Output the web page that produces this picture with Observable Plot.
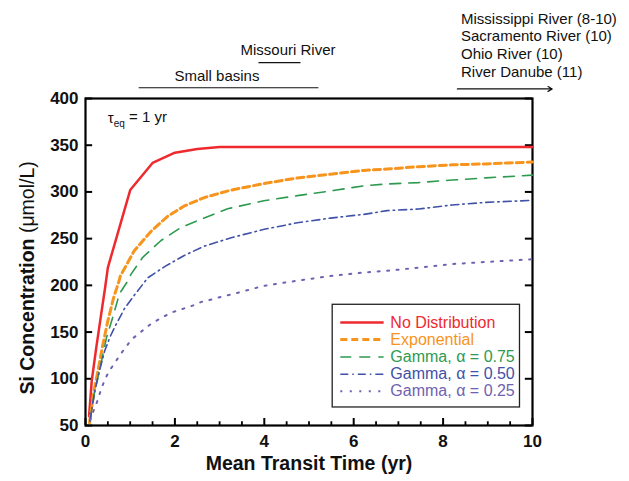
<!DOCTYPE html>
<html>
<head>
<meta charset="utf-8">
<script src="https://cdn.jsdelivr.net/npm/d3@7"></script>
<script src="https://cdn.jsdelivr.net/npm/@observablehq/plot@0.6"></script>
<style>
  html, body { margin: 0; padding: 0; background: #fff; }
  #chart { width: 629px; height: 481px; }
</style>
</head>
<body>
<div id="chart"></div>
<script>
// ---- data ----
const noDistT = [0.08, 0.14, 0.24, 0.35, 0.44, 0.5, 1.0, 1.5, 2.0, 2.5, 3.0, 4, 5, 6, 7, 8, 9, 10];
const noDistV = [60, 98, 133, 169, 198, 219, 302, 331, 342, 346, 348, 348, 348, 348, 348, 348, 348, 348];

const expT = [0.09, 0.19, 0.28, 0.39, 0.5, 0.63, 0.74, 0.78, 1.09, 1.47, 1.84, 2.21, 2.66, 3.26, 4.0, 4.74, 5.48, 6.23, 6.75, 7.45, 8.2, 8.95, 10];
const expV = [53, 87, 109, 137, 162, 187, 203, 210, 237, 258, 274, 285, 294, 302, 309, 315, 319, 323, 324.5, 327, 329, 330, 332];

const g75T = [0.1, 0.2, 0.35, 0.47, 0.61, 0.76, 0.95, 1.02, 1.28, 1.69, 2.14, 2.59, 3.18, 3.99, 4.74, 5.48, 6.23, 6.75, 7.45, 8.2, 8.95, 10];
const g75V = [55, 85, 117, 144, 166, 191, 205, 212, 230, 248, 262, 271, 282, 290.6, 296, 301, 306.6, 308.5, 310, 312.7, 315, 318];

const g50T = [0.1, 0.2, 0.31, 0.43, 0.55, 0.65, 0.87, 1.1, 1.28, 1.39, 1.77, 2.21, 2.66, 3.26, 4.0, 4.74, 5.48, 6.23, 6.75, 7.45, 8.2, 8.95, 10];
const g50V = [55, 85, 108, 130, 145, 155, 175, 190, 201, 208, 220, 232, 242, 251, 260, 267, 272, 276, 280, 281.7, 286, 288.8, 291];

const g25T = [0.1, 0.15, 0.28, 0.35, 0.44, 0.54, 0.71, 0.87, 1.04, 1.26, 1.47, 1.71, 1.93, 2.16, 2.38, 2.6, 2.83, 3.05, 3.3, 4.0, 4.74, 5.48, 6.23, 6.75, 7.45, 8.2, 8.95, 10];
const g25V = [55, 62, 78, 89, 100, 109, 121, 132, 142.5, 151, 159, 165.6, 171, 174.6, 178, 182.4, 185, 188, 190.7, 199.6, 205, 210, 213.8, 215.6, 219, 222.8, 225, 228];

const xMajor = [0, 2, 4, 6, 8, 10];
const xMinor = [0.5, 1, 1.5, 2.5, 3, 3.5, 4.5, 5, 5.5, 6.5, 7, 7.5, 8.5, 9, 9.5];
const yTicks = [50, 100, 150, 200, 250, 300, 350, 400];

const seriesNames = ["No Distribution", "Exponential", "Gamma, α = 0.75", "Gamma, α = 0.50", "Gamma, α = 0.25"];
const seriesColors = ["#ee2a2e", "#f7941d", "#2e9a50", "#3f51a8", "#6f62b0"];
const seriesDash = [null, "7,4", "11,8", "8,4,1.5,4", "2,7.5"];
const seriesWidth = [2.5, 3, 1.6, 1.6, 2];

const toRows = (T, V) => T.map((t, i) => ({t, v: V[i]}));
const series = [
  toRows(noDistT, noDistV),
  toRows(expT, expV),
  toRows(g75T, g75V),
  toRows(g50T, g50V),
  toRows(g25T, g25V)
];

// ---- annotation layout (data units) ----
const legendBox = {x1: 5.53, x2: 9.72, y1: 69.3, y2: 179.2};
const legendRowY = [160.3, 142.1, 123.3, 104.8, 86.6];
const legendRows = seriesNames.map((name, i) => ({name, y: legendRowY[i], i}));

const rangeLabels = [
  {x: 2.94, y: 424.4, text: "Small basins", x1: 1.19, x2: 5.21, ly: 411.5},
  {x: 4.53, y: 451.2, text: "Missouri River", x1: 3.87, x2: 4.81, ly: 438.3}
];
const bigRivers = ["Mississippi River (8-10)", "Sacramento River (10)", "Ohio River (10)", "River Danube (11)"];
const bigRiverY = [485.4, 467.2, 447.9, 428.6];

const font = "Liberation Sans, Arial, Helvetica, sans-serif";

const marks = [
  Plot.frame({stroke: "black", strokeWidth: 2.2}),
  // inward ticks
  Plot.ruleY(yTicks, {x1: 0, x2: 0.16, stroke: "black", strokeWidth: 2}),
  Plot.ruleY(yTicks, {x1: 9.84, x2: 10, stroke: "black", strokeWidth: 2}),
  Plot.ruleX(xMajor, {y1: 50, y2: 57.5, stroke: "black", strokeWidth: 2}),
  Plot.ruleX(xMinor, {y1: 50, y2: 54, stroke: "black", strokeWidth: 1.8}),
  Plot.axisX({ticks: xMajor, tickSize: 0, tickPadding: 9, fontSize: 17, fontWeight: "bold", label: null}),
  Plot.axisY({ticks: yTicks, tickSize: 0, tickPadding: 7, fontSize: 17, fontWeight: "bold", label: null}),
  Plot.text(["Mean Transit Time (yr)"], {frameAnchor: "bottom", dy: 44, fontSize: 19.5, fontWeight: "bold", fill: "#111"}),
  Plot.text(["Si Concentration (μmol/L)"], {x: -1.3, y: 208, rotate: -90, fontSize: 19.5, fontWeight: "bold", fill: "#111"}),
  Plot.text(["τeq = 1 yr"], {x: 0.5, y: 378.4, textAnchor: "start", fontSize: 15, fill: "#111"})
];

series.forEach((rows, i) => {
  marks.push(Plot.line(rows, {
    x: "t", y: "v", stroke: seriesColors[i], strokeWidth: seriesWidth[i],
    strokeDasharray: seriesDash[i], curve: "linear"
  }));
});

// legend
marks.push(Plot.rect([legendBox], {x1: "x1", x2: "x2", y1: "y1", y2: "y2", fill: "white", stroke: "#222", strokeWidth: 1.3}));
legendRows.forEach(r => {
  marks.push(Plot.link([r], {x1: 5.7, x2: 6.67, y1: "y", y2: "y", stroke: seriesColors[r.i], strokeWidth: seriesWidth[r.i], strokeDasharray: seriesDash[r.i]}));
});
marks.push(Plot.text(legendRows, {x: 6.82, y: "y", text: "name", textAnchor: "start", fontSize: 16, fill: d => seriesColors[d.i]}));

// top annotations
marks.push(Plot.text(rangeLabels, {x: "x", y: "y", text: "text", fontSize: 15, fill: "#111"}));
marks.push(Plot.link(rangeLabels, {x1: "x1", x2: "x2", y1: "ly", y2: "ly", stroke: "#111", strokeWidth: 1.2}));
marks.push(Plot.text(bigRivers, {x: 8.4, y: (d, i) => bigRiverY[i], text: d => d, textAnchor: "start", fontSize: 15, fill: "#111"}));
marks.push(Plot.arrow([{x1: 8.32, x2: 10.44, y: 410.2}], {x1: "x1", x2: "x2", y1: "y", y2: "y", stroke: "#111", strokeWidth: 1.2, headLength: 6}));

const chart = Plot.plot({
  width: 629,
  height: 481,
  marginLeft: 85,
  marginRight: 97,
  marginTop: 98,
  marginBottom: 56,
  x: {domain: [0, 10]},
  y: {domain: [50, 400]},
  style: {fontFamily: font, background: "white", color: "#111"},
  marks
});

// rich text tweaks
const svg = d3.select(chart);
svg.selectAll("text").each(function() {
  const el = d3.select(this);
  const txt = this.textContent;
  if (txt === "τeq = 1 yr") {
    el.text(null);
    el.append("tspan").text("τ");
    el.append("tspan").attr("dy", "0.35em").attr("font-size", "10").text("eq");
    el.append("tspan").attr("dy", "-0.35em").text(" = 1 yr");
  } else if (txt === "Si Concentration (μmol/L)") {
    el.text(null);
    el.append("tspan").text("Si Concentration ");
    el.append("tspan").attr("font-weight", "normal").text("(μmol/L)");
  }
});

document.getElementById("chart").appendChild(chart);
</script>
</body>
</html>
